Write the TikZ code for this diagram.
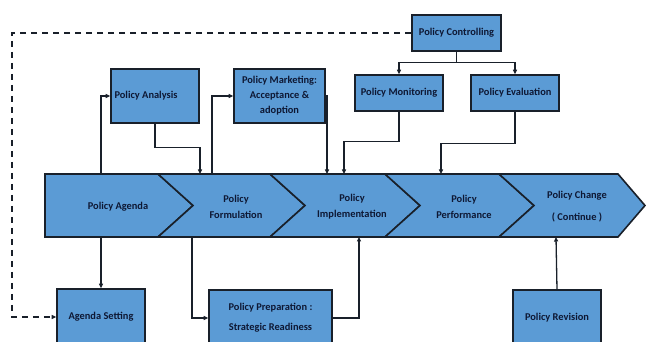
\documentclass[tikz,border=0pt]{standalone}
\usepackage{fontspec}
\setmainfont{Carlito}
\usetikzlibrary{arrows.meta}
\definecolor{boxblue}{RGB}{91,155,213}
\definecolor{edge}{RGB}{25,32,42}
\definecolor{txt}{RGB}{14,24,52}
\begin{document}
\begin{tikzpicture}[x=1pt,y=-1pt,
  fnt/.style={font=\bfseries\fontsize{10.4}{12}\selectfont,text=txt},
  box/.style={draw=edge,line width=1.6pt,fill=boxblue,inner sep=0pt,fnt,align=center},
  lbl/.style={fnt,align=center,inner sep=0pt},
  band/.style={draw=edge,line width=1.6pt,fill=boxblue,line join=miter},
  link/.style={draw=edge,line width=1.3pt,-{Triangle[length=4.5pt,width=4pt]}},
  dashlink/.style={link,dash pattern=on 6pt off 5pt}]
\useasboundingbox (0,0) rectangle (646,342);
\clip (0,0) rectangle (646,342);

% chevron band
\draw[band] (45,174) -- (158,174) -- (193,205.5) -- (158,237) -- (45,237) -- cycle;
\draw[band] (158,174) -- (270,174) -- (305,205.5) -- (270,237) -- (158,237) -- (193,205.5) -- cycle;
\draw[band] (270,174) -- (385,174) -- (420,205.5) -- (385,237) -- (270,237) -- (305,205.5) -- cycle;
\draw[band] (385,174) -- (499,174) -- (534,205.5) -- (499,237) -- (385,237) -- (420,205.5) -- cycle;
\draw[band] (499,174) -- (618,174) -- (645,205.5) -- (618,237) -- (499,237) -- (534,205.5) -- cycle;

\node[lbl] (agenda) at (118,207) {Policy Agenda};
\node[lbl] (form) at (236,207) {Policy\\[4pt]Formulation};
\node[lbl] (impl) at (352,207) {Policy\\[4pt]Implementation};
\node[lbl] (perf) at (464,207) {Policy\\[4pt]Performance};
\node[lbl] (change) at (577,207) {Policy Change\\[10pt]( Continue )};

% band attachment points
\coordinate (tag) at (101,174);
\coordinate (tform) at (200,174);
\coordinate (tform2) at (212,174);
\coordinate (timp) at (327,174);
\coordinate (tmon) at (344,174);
\coordinate (tperf) at (441,174);
\coordinate (bag) at (101,237);
\coordinate (bform) at (192,238);
\coordinate (bimp) at (359,237);
\coordinate (bchg) at (556,237);
\coordinate (dl) at (12,200);

% boxes
\node[box,minimum width=89pt,minimum height=36pt] (control) at (456.5,33) {Policy Controlling};
\node[box,minimum width=88pt,minimum height=54pt] (analysis) at (155,96) {};
\node[lbl] (analysistext) at (146,96) {Policy Analysis};
\node[box,minimum width=91pt,minimum height=54pt] (market) at (279.5,96) {Policy Marketing:\\[3pt]Acceptance \&\\[3pt]adoption};
\node[box,minimum width=88pt,minimum height=36pt] (monitor) at (399,93) {Policy Monitoring};
\node[box,minimum width=88pt,minimum height=36pt] (evalu) at (515,93) {Policy Evaluation};
\node[box,minimum width=88pt,minimum height=56pt] (setting) at (101,317) {Agenda Setting};
\node[box,minimum width=123pt,minimum height=56pt] (prep) at (270.5,318) {Policy Preparation :\\[8pt]Strategic Readiness};
\node[box,minimum width=88pt,minimum height=56pt] (revision) at (557,318) {Policy Revision};

% connectors
\draw[dashlink] (control.west) -| (dl) |- (setting.west);
\draw[link] (control.south) -- ++(0,11) -| (monitor.north);
\draw[link] (control.south) -- ++(0,11) -| (evalu.north);
\draw[link] (monitor.south) -- ++(0,30) -| (tmon);
\draw[link] (evalu.south) -- ++(0,32) -| (tperf);
\draw[link] (analysis.south) -- ++(0,24) -| (tform);
\draw[link] (tag) |- (analysis.west);
\draw[link] (tform2) |- (market.west);
\draw[link] (market.east) -| (timp);
\draw[link] (bag) -- (setting.north);
\draw[link] (bform) |- (prep.west);
\draw[link] (prep.east) -| (bimp);
\draw[link] (revision.north) -- (bchg);
\end{tikzpicture}
\end{document}
